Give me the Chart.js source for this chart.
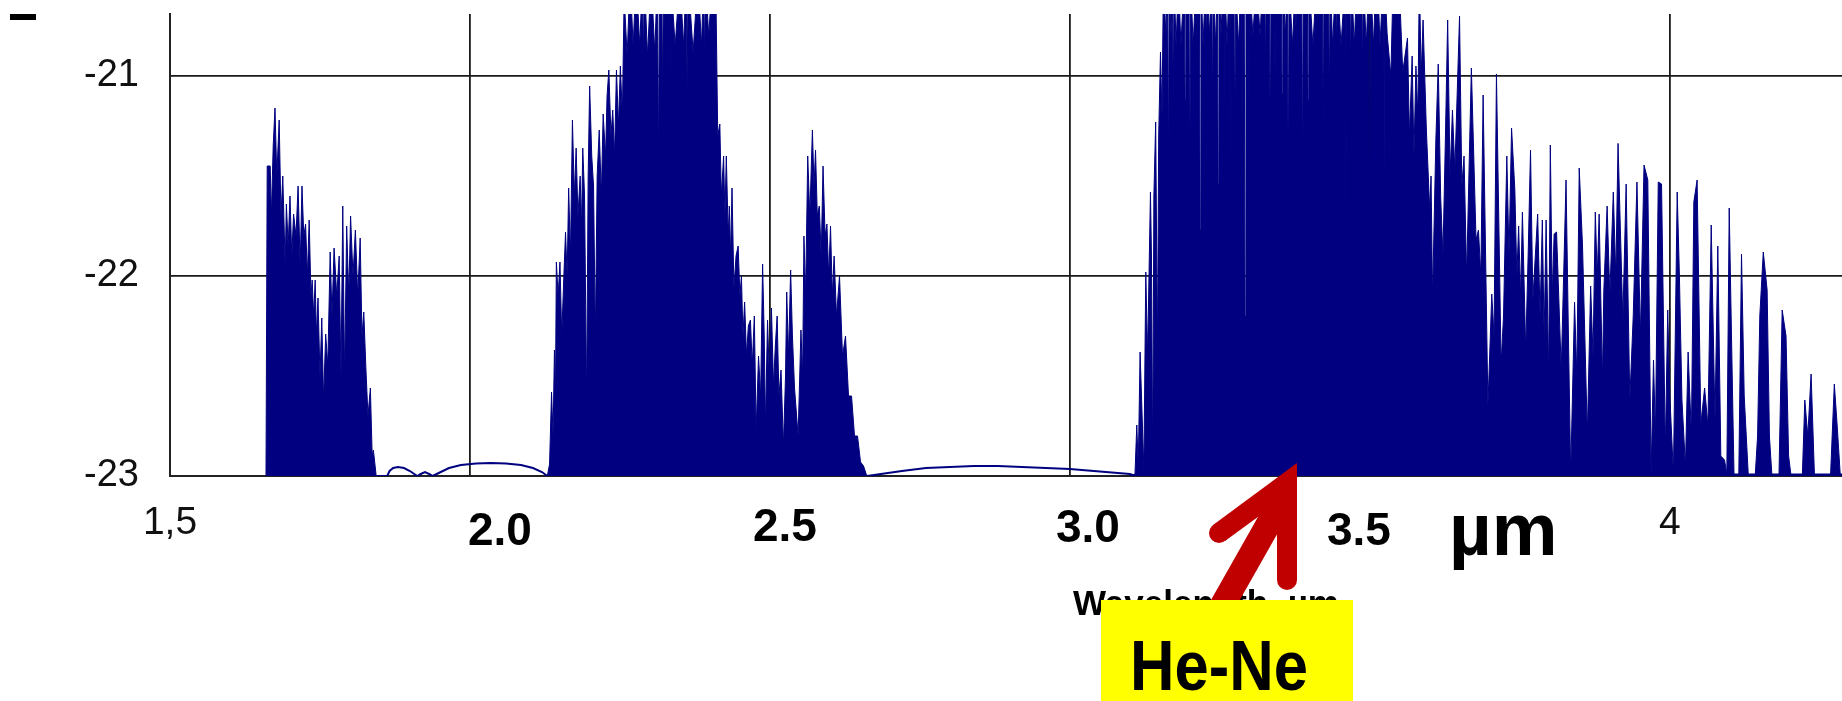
<!DOCTYPE html>
<html>
<head>
<meta charset="utf-8">
<script src="https://cdn.jsdelivr.net/npm/chart.js@4.4.1/dist/chart.umd.min.js"></script>
<style>
  html, body { margin: 0; padding: 0; background: #fff; }
  #wrap { width: 1842px; height: 701px; position: relative; }
</style>
</head>
<body>
<div id="wrap"><canvas id="myChart"></canvas></div>
<script>
// wavelength (um), log10 line intensity
const band1 = [
  [1.660,-23],[1.662,-21.45],[1.667,-21.45],[1.669,-21.7],[1.672,-21.35],[1.675,-21.16],[1.678,-21.5],
  [1.682,-21.22],[1.685,-21.7],[1.688,-21.5],[1.692,-21.95],[1.694,-21.64],[1.697,-21.85],[1.700,-21.6],
  [1.703,-21.9],[1.706,-21.69],[1.710,-21.8],[1.7135,-21.55],[1.717,-21.95],[1.720,-21.55],[1.723,-21.8],
  [1.726,-21.74],[1.729,-22.0],[1.732,-21.72],[1.735,-22.1],[1.737,-22.02],[1.7395,-22.2],[1.742,-22.02],
  [1.744,-22.3],[1.7467,-22.11],[1.750,-22.5],[1.753,-22.21],[1.756,-22.62],[1.7595,-22.29],[1.763,-22.45],
  [1.767,-21.88],[1.770,-22.2],[1.7735,-21.86],[1.778,-22.1],[1.782,-21.9],[1.785,-22.5],[1.788,-21.65],
  [1.791,-22.5],[1.7945,-21.75],[1.798,-22.1],[1.801,-21.7],[1.805,-22.0],[1.809,-21.77],[1.813,-22.1],
  [1.817,-21.81],[1.820,-22.3],[1.823,-22.18],[1.8265,-22.46],[1.830,-22.7],[1.834,-22.56],[1.837,-22.9],
  [1.839,-22.87],[1.8437,-23]
];

const band2 = [
  [2.129,-23],[2.1327,-22.94],[2.136,-22.58],[2.1385,-22.8],[2.1408,-22.37],[2.1425,-22.6],[2.144,-21.93],
  [2.147,-22.1],[2.150,-21.93],[2.153,-22.3],[2.1565,-22.0],[2.1593,-21.78],[2.162,-22.0],[2.1645,-21.56],
  [2.1675,-21.9],[2.1708,-21.22],[2.174,-21.6],[2.177,-21.36],[2.180,-21.7],[2.1837,-21.5],[2.186,-21.75],
  [2.188,-21.36],[2.191,-21.6],[2.1945,-22.63],[2.197,-21.5],[2.1995,-21.05],[2.203,-21.4],[2.206,-21.55],
  [2.209,-22.31],[2.212,-21.5],[2.2155,-21.27],[2.219,-21.6],[2.222,-21.19],[2.226,-21.4],[2.2285,-21.1],
  [2.2315,-20.97],[2.235,-21.3],[2.238,-21.17],[2.241,-21.4],[2.2442,-20.97],[2.2475,-21.25],[2.2507,-20.95],
  [2.254,-21.2],[2.257,-20.6],[2.262,-20.9],[2.267,-20.5],[2.272,-20.85],[2.277,-20.5],[2.283,-20.85],
  [2.2875,-20.5],[2.289,-20.96],[2.2905,-20.5],[2.296,-20.9],[2.302,-20.5],[2.308,-20.88],[2.3125,-20.5],
  [2.3143,-21.45],[2.316,-20.5],[2.3195,-20.5],[2.321,-21.08],[2.3225,-20.5],[2.3318,-20.5],[2.3333,-21.13],
  [2.3348,-20.5],[2.342,-20.85],[2.350,-20.5],[2.356,-20.85],[2.3605,-20.5],[2.362,-21.07],[2.3635,-20.5],
  [2.372,-20.88],[2.380,-20.5],[2.386,-20.85],[2.3895,-20.5],[2.391,-20.92],[2.3925,-20.5],[2.398,-20.8],
  [2.404,-20.5],[2.410,-20.6],[2.413,-21.3],[2.4165,-21.24],[2.419,-21.6],[2.4228,-21.4],[2.425,-21.7],
  [2.4273,-21.4],[2.4305,-21.8],[2.4323,-21.65],[2.4345,-21.9],[2.4368,-21.56],[2.440,-22.06],[2.4435,-21.9],
  [2.447,-21.85],[2.450,-22.1],[2.4525,-22.0],[2.455,-22.3],[2.4578,-22.13],[2.461,-22.4],[2.464,-22.25],
  [2.4675,-22.22],[2.4705,-22.45],[2.474,-22.2],[2.477,-22.77],[2.481,-22.4],[2.4845,-22.6],[2.4878,-21.94],
  [2.4905,-22.3],[2.4925,-22.75],[2.496,-22.22],[2.499,-22.5],[2.5025,-22.16],[2.506,-22.55],[2.509,-22.35],
  [2.512,-22.2],[2.515,-22.6],[2.5185,-22.47],[2.5225,-22.85],[2.526,-22.5],[2.528,-22.08],[2.531,-22.4],
  [2.5345,-21.97],[2.5375,-22.3],[2.541,-22.56],[2.547,-22.8],[2.5517,-22.27],[2.5545,-22.5],[2.5567,-21.8],
  [2.5595,-22.1],[2.563,-21.4],[2.5665,-21.7],[2.5708,-21.27],[2.5735,-21.55],[2.576,-21.37],[2.579,-21.7],
  [2.5823,-21.65],[2.5855,-21.9],[2.5885,-21.45],[2.592,-21.8],[2.595,-21.74],[2.598,-22.0],[2.601,-21.75],
  [2.604,-22.1],[2.607,-21.9],[2.611,-22.2],[2.616,-22.0],[2.621,-22.4],[2.626,-22.3],[2.631,-22.6],
  [2.636,-22.6],[2.641,-22.8],[2.646,-22.8],[2.651,-22.93],[2.656,-22.95],[2.6615,-23]
];

const band3 = [
  [3.100,-23],[3.1085,-22.99],[3.1115,-22.745],[3.114,-22.95],[3.117,-22.38],[3.1233,-22.97],[3.1265,-21.98],
  [3.1295,-22.4],[3.1343,-21.58],[3.136,-21.9],[3.138,-22.95],[3.140,-21.6],[3.143,-21.23],[3.146,-22.38],
  [3.148,-21.3],[3.151,-20.88],[3.1535,-21.2],[3.156,-20.5],[3.160,-20.8],
  [3.163,-20.5],[3.1643,-21.52],[3.1656,-20.5],[3.1685,-20.8],[3.171,-20.5],[3.1723,-21.2],[3.1736,-20.5],
  [3.177,-20.85],[3.181,-20.5],[3.185,-20.85],[3.1907,-20.5],[3.192,-21.12],[3.1933,-20.5],
  [3.1985,-20.5],[3.1998,-21.65],[3.2011,-20.5],[3.2055,-20.85],[3.2104,-20.5],[3.2117,-20.92],[3.213,-20.5],
  [3.2159,-20.5],[3.2172,-21.77],[3.2185,-20.5],[3.222,-20.85],[3.2262,-20.5],[3.2275,-20.89],[3.2288,-20.5],
  [3.2325,-20.8],[3.2364,-20.5],[3.2377,-21.17],[3.239,-20.5],[3.243,-20.85],[3.2459,-20.5],[3.2472,-21.54],
  [3.2485,-20.5],[3.252,-20.8],[3.2554,-20.5],[3.2567,-21.27],[3.258,-20.5],[3.262,-20.85],[3.2655,-20.5],
  [3.2668,-21.62],[3.2681,-20.5],[3.2735,-20.5],[3.2748,-21.4],[3.2761,-20.5],[3.281,-20.85],[3.2854,-20.5],
  [3.2867,-21.4],[3.288,-20.5],[3.2905,-20.5],[3.292,-22.2],[3.2935,-20.5],[3.2972,-20.5],[3.2985,-21.22],
  [3.2998,-20.5],[3.305,-20.8],[3.311,-20.5],[3.317,-20.8],[3.3215,-20.5],[3.3247,-20.5],[3.326,-20.98],
  [3.3273,-20.5],[3.3327,-20.5],[3.334,-21.45],[3.3353,-20.5],[3.3405,-20.5],[3.3418,-21.12],[3.3431,-20.5],
  [3.3469,-20.5],[3.3482,-20.81],[3.3495,-20.5],[3.3524,-20.5],[3.3537,-21.09],[3.355,-20.5],[3.359,-20.8],
  [3.3627,-20.5],[3.364,-21.69],[3.3653,-20.5],[3.371,-20.85],[3.376,-20.5],[3.3773,-20.89],[3.3786,-20.5],
  [3.3864,-20.5],[3.3877,-21.55],[3.389,-20.5],[3.3957,-20.5],[3.397,-21.12],[3.3983,-20.5],[3.405,-20.85],
  [3.4115,-20.5],[3.4128,-20.79],[3.4141,-20.5],[3.421,-20.5],[3.4223,-21.34],[3.4236,-20.5],[3.4312,-20.5],
  [3.4325,-21.2],[3.4338,-20.5],[3.438,-20.85],[3.443,-20.5],[3.4443,-20.89],[3.4456,-20.5],[3.452,-20.85],
  [3.4589,-20.5],[3.4602,-21.94],[3.4615,-20.5],[3.4667,-20.5],[3.468,-21.0],[3.4693,-20.5],[3.474,-20.85],
  [3.4785,-20.5],[3.4798,-20.85],[3.4811,-20.5],[3.4865,-20.5],[3.4878,-20.99],[3.4891,-20.5],[3.494,-20.85],
  [3.4984,-20.5],[3.4997,-22.09],[3.501,-20.5],[3.506,-20.85],[3.5102,-20.5],[3.5115,-20.84],[3.5128,-20.5],
  [3.517,-20.85],[3.522,-20.5],[3.5233,-21.84],[3.5246,-20.5],
  [3.5288,-20.79],[3.535,-21.0],[3.539,-20.5],[3.5485,-20.5],[3.5548,-20.98],[3.5627,-20.81],[3.566,-21.3],
  [3.5705,-20.9],[3.5735,-21.4],[3.5768,-20.95],[3.580,-21.2],[3.5825,-20.5],[3.5855,-21.0],[3.5887,-20.72],
  [3.5942,-21.27],[3.5998,-21.67],[3.602,-21.5],[3.6045,-22.11],[3.610,-21.32],[3.614,-20.94],[3.618,-21.6],
  [3.6218,-21.9],[3.626,-21.3],[3.6297,-20.72],[3.6337,-21.5],[3.6377,-21.17],[3.6417,-21.47],[3.6495,-20.7],
  [3.6533,-21.55],[3.657,-21.4],[3.6613,-22.0],[3.6692,-20.96],[3.677,-21.82],[3.681,-21.77],[3.685,-22.0],
  [3.6888,-21.095],[3.6968,-22.65],[3.7032,-22.09],[3.707,-22.3],[3.711,-20.99],[3.7188,-22.44],[3.7228,-22.2],
  [3.7283,-21.4],[3.732,-21.9],[3.7362,-21.26],[3.7417,-21.57],[3.745,-22.0],[3.748,-21.75],[3.7513,-22.1],
  [3.7543,-21.68],[3.7598,-22.37],[3.7638,-21.9],[3.7678,-21.37],[3.7717,-22.12],[3.7797,-21.69],[3.7837,-22.2],
  [3.7875,-21.72],[3.7905,-22.3],[3.7938,-21.72],[3.798,-22.5],[3.8008,-21.345],[3.804,-22.1],[3.8072,-21.79],
  [3.8112,-21.78],[3.819,-22.47],[3.823,-22.0],[3.827,-21.52],[3.831,-22.3],[3.8348,-22.99],[3.8412,-22.13],
  [3.845,-22.5],[3.849,-21.46],[3.8545,-21.85],[3.8625,-22.79],[3.868,-22.05],[3.872,-22.4],[3.8758,-21.68],
  [3.879,-22.0],[3.8822,-21.69],[3.8877,-22.52],[3.890,-22.07],[3.8955,-21.65],[3.900,-22.1],[3.9058,-21.58],
  [3.910,-22.0],[3.9137,-21.337],[3.9217,-22.22],[3.9272,-21.54],[3.9333,-22.62],[3.939,-22.2],[3.9452,-21.53],
  [3.951,-22.3],[3.957,-21.445],[3.9633,-21.52],[3.9688,-22.99],[3.9728,-22.42],[3.976,-22.8],[3.9807,-21.53],
  [3.9862,-21.54],[3.9925,-22.87],[3.9965,-22.17],[4.000,-22.6],[4.006,-22.99],[4.0123,-21.58],[4.016,-22.0],
  [4.0202,-22.62],[4.026,-22.95],[4.0305,-22.38],[4.036,-22.8],[4.040,-21.63],[4.0455,-21.52],[4.0517,-22.74],
  [4.058,-22.56],[4.0635,-22.75],[4.069,-21.745],[4.0753,-22.72],[4.080,-21.85],[4.085,-22.9],[4.0912,-22.92],
  [4.095,-22.99],[4.099,-21.66],[4.104,-22.5],[4.107,-22.99],[4.115,-22.99],[4.1195,-21.89],[4.124,-22.6],
  [4.1307,-22.99],[4.1425,-22.99],[4.1463,-22.8],[4.150,-22.2],[4.1558,-21.88],[4.1622,-22.07],[4.166,-22.8],
  [4.170,-22.99],[4.182,-22.99],[4.1873,-22.17],[4.1937,-22.3],[4.198,-22.9],[4.2017,-22.99],[4.221,-22.99],
  [4.225,-22.62],[4.230,-22.8],[4.2355,-22.49],[4.241,-22.99],[4.268,-22.99],[4.2742,-22.54],[4.279,-22.75],
  [4.284,-22.99],[4.290,-22.99]
];

// weak continuum between the bands (drawn as a plain line)
const gap1 = [
  [1.844,-23],[1.862,-23],[1.866,-22.975],[1.872,-22.96],[1.880,-22.955],[1.890,-22.96],[1.900,-22.975],
  [1.912,-23],[1.918,-22.99],[1.925,-22.98],[1.932,-22.99],[1.938,-23],[1.948,-22.985],[1.965,-22.96],
  [1.985,-22.945],[2.010,-22.937],[2.035,-22.935],[2.060,-22.937],[2.085,-22.945],[2.105,-22.96],
  [2.120,-22.98],[2.129,-23]
];
const gap2 = [
  [2.662,-23],[2.685,-22.99],[2.720,-22.975],[2.760,-22.96],[2.800,-22.955],[2.840,-22.95],[2.880,-22.95],
  [2.920,-22.955],[2.960,-22.96],[3.000,-22.965],[3.040,-22.975],[3.080,-22.985],[3.100,-22.99],[3.110,-23]
];

const yTicks = [-23, -22, -21];
const boldTickValues = [2.0, 2.5, 3.0, 3.5];
const boldTickLabels = ["2.0", "2.5", "3.0", "3.5"];

const navy = "#000080";
const toXY = (arr) => arr.map(([x, y]) => ({ x: x, y: y }));

const overlay = {
  id: "overlay",
  afterDraw(chart) {
    const ctx = chart.ctx;
    const xs = chart.scales.x;
    ctx.save();

    // little dash at top-left
    ctx.fillStyle = "#000";
    ctx.fillRect(10, 14, 26, 6);

    // bold tick labels written over the axis
    ctx.font = 'bold 46px "Liberation Sans", Arial, sans-serif';
    ctx.textAlign = "center";
    ctx.textBaseline = "alphabetic";
    const offs = [30, 15, 18, -11];
    const bases = [545, 541, 542, 545];
    boldTickValues.forEach((v, i) => {
      ctx.fillText(boldTickLabels[i], xs.getPixelForValue(v) + offs[i], bases[i]);
    });

    ctx.font = 'bold 74px "Liberation Sans", Arial, sans-serif';
    ctx.textAlign = "left";
    ctx.fillText("µm", 1449, 555);

    // axis title (partly hidden)
    ctx.font = 'bold 35px "Liberation Sans", Arial, sans-serif';
    ctx.textAlign = "center";
    ctx.fillText("Wavelength, µm", 1206, 615);

    // red arrow
    ctx.fillStyle = "#c00000";
    ctx.strokeStyle = "#c00000";
    ctx.lineWidth = 25;
    ctx.lineCap = "butt";
    ctx.beginPath();
    ctx.moveTo(1166, 705);
    ctx.lineTo(1282, 500);
    ctx.stroke();
    ctx.beginPath();
    ctx.moveTo(1297, 463);
    ctx.lineTo(1297, 580);
    ctx.lineTo(1277, 580);
    ctx.lineTo(1277, 503);
    ctx.lineTo(1225, 541);
    ctx.lineTo(1213, 525);
    ctx.closePath();
    ctx.fill();
    ctx.beginPath();
    ctx.arc(1287, 580, 10, 0, Math.PI * 2);
    ctx.fill();
    ctx.beginPath();
    ctx.arc(1219, 533, 10, 0, Math.PI * 2);
    ctx.fill();

    // yellow label
    ctx.fillStyle = "#ffff00";
    ctx.fillRect(1101, 600, 252, 101);
    ctx.fillStyle = "#000";
    ctx.font = 'bold 70px "Liberation Sans", Arial, sans-serif';
    ctx.textAlign = "left";
    const w = ctx.measureText("He-Ne").width;
    ctx.translate(1130, 690);
    ctx.scale(178 / w, 1);
    ctx.fillText("He-Ne", 0, 0);

    ctx.restore();
  }
};

const config = {
  type: "line",
  data: {
    datasets: [
      { data: toXY(band1), borderColor: navy, backgroundColor: navy, borderWidth: 1, fill: { value: -23 } },
      { data: toXY(band2), borderColor: navy, backgroundColor: navy, borderWidth: 1, fill: { value: -23 } },
      { data: toXY(band3), borderColor: navy, backgroundColor: navy, borderWidth: 1, fill: { value: -23 } },
      { data: toXY(gap1), borderColor: navy, borderWidth: 2, fill: false },
      { data: toXY(gap2), borderColor: navy, borderWidth: 2, fill: false }
    ]
  },
  options: {
    responsive: true,
    maintainAspectRatio: false,
    animation: false,
    layout: { padding: { top: 14, right: 0, bottom: 0, left: 0 } },
    elements: { point: { radius: 0 }, line: { tension: 0 } },
    plugins: { legend: { display: false }, tooltip: { enabled: false } },
    scales: {
      x: {
        type: "linear",
        min: 1.5,
        max: 4.287,
        grid: { color: "#1a1a1a", lineWidth: 1.8, drawTicks: false },
        border: { display: true, color: "#222", width: 2 },
        ticks: {
          stepSize: 0.5,
          includeBounds: false,
          autoSkip: false,
          maxRotation: 0,
          padding: 24,
          color: "#111",
          font: { family: '"Liberation Sans Narrow", "Liberation Sans", Arial', size: 39 },
          callback: (v) => (Math.abs(v - 1.5) < 1e-6 ? "1,5" : Math.abs(v - 4) < 1e-6 ? "4" : "")
        },
        afterFit: (scale) => {
          scale.height = 225;
          scale.paddingLeft = 0;
          scale.paddingRight = 0;
        }
      },
      y: {
        min: -23,
        max: -20.69,
        grid: { color: "#1a1a1a", lineWidth: 1.8, drawTicks: false },
        border: { display: true, color: "#222", width: 2 },
        afterBuildTicks: (scale) => { scale.ticks = yTicks.map((v) => ({ value: v })); },
        ticks: {
          padding: 31,
          color: "#111",
          font: { family: '"Liberation Sans Narrow", "Liberation Sans", Arial', size: 38 },
          callback: (v) => String(v)
        },
        afterFit: (scale) => {
          scale.width = 170;
          scale.paddingTop = 0;
          scale.paddingBottom = 0;
        }
      }
    }
  },
  plugins: [overlay]
};

var myChart = new Chart(document.getElementById("myChart"), config);
</script>
</body>
</html>
